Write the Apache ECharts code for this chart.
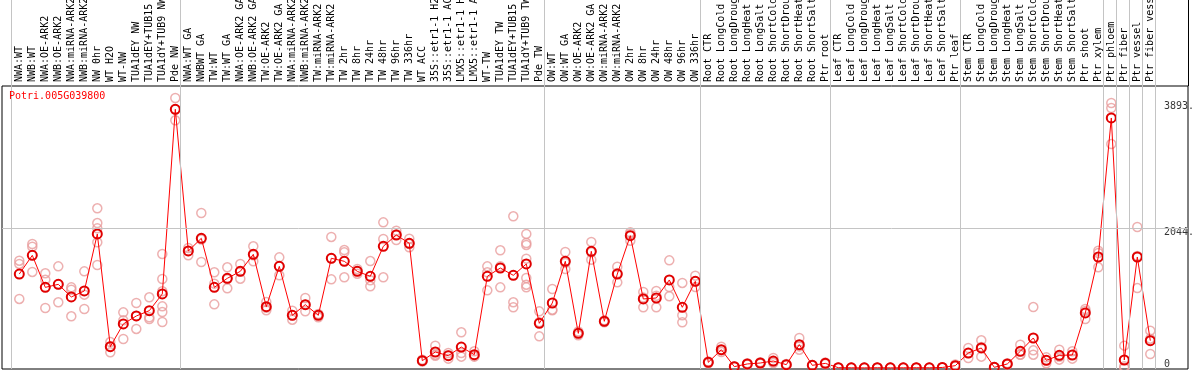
<!DOCTYPE html>
<html><head><meta charset="utf-8">
<script src="https://cdn.jsdelivr.net/npm/echarts@6/dist/echarts.min.js"></script>
<style>html,body{margin:0;padding:0;background:#fff}#c{width:1194px;height:370px}</style>
</head><body><div id="c"></div>
<script>
const geneId = 'Potri.005G039800';
const categories = [
'NWA:WT','NWB:WT','NWA:OE-ARK2','NWB:OE-ARK2','NWA:miRNA-ARK2','NWB:miRNA-ARK2','NW 0hr','WT H2O','WT-NW','TUA1dEY NW','TUA1dEY+TUB15 NW','TUA1dY+TUB9 NW','Pde NW',
'NWA:WT GA','NWBWT GA','TW:WT','TW:WT GA','NWA:OE-ARK2 GA','NWB:OE-ARK2 GA','TW:OE-ARK2','TW:OE-ARK2 GA','NWA:miRNA-ARK2','NWB:miRNA-ARK2','TW:miRNA-ARK2','TW:miRNA-ARK2','TW 2hr','TW 8hr','TW 24hr','TW 48hr','TW 96hr','TW 336hr','WT ACC','35S::etr1-1 H2O','35S::etr1-1 ACC','LMX5::etr1-1 H2O','LMX5::etr1-1 ACC','WT-TW','TUA1dEY TW','TUA1dEY+TUB15 TW','TUA1dY+TUB9 TW','Pde TW',
'OW:WT','OW:WT GA','OW:OE-ARK2','OW:OE-ARK2 GA','OW:miRNA-ARK2','OW:miRNA-ARK2','OW 2hr','OW 8hr','OW 24hr','OW 48hr','OW 96hr','OW 336hr',
'Root CTR','Root LongCold','Root LongDrought','Root LongHeat','Root LongSalt','Root ShortCold','Root ShortDrought','Root ShortHeat','Root ShortSalt','Ptr root',
'Leaf CTR','Leaf LongCold','Leaf LongDrought','Leaf LongHeat','Leaf LongSalt','Leaf ShortCold','Leaf ShortDrought','Leaf ShortHeat','Leaf ShortSalt','Ptr leaf',
'Stem CTR','Stem LongCold','Stem LongDrought','Stem LongHeat','Stem LongSalt','Stem ShortCold','Stem ShortDrought','Stem ShortHeat','Stem ShortSalt','Ptr shoot',
'Ptr xylem','Ptr phloem','Ptr fiber','Ptr vessel','Ptr fiber vessel'
];
const means = [
1375,1648,1180,1224,1039,1127,1961,312,644,761,839,1083,3785,
1712,1897,1180,1312,1414,1663,897,1487,771,927,771,1605,1561,1414,1341,1780,1946,1824,107,234,180,307,195,1341,1463,1356,1522,654,
951,1561,507,1707,683,1375,1936,1010,1024,1288,888,1268,
83,268,20,59,73,102,49,341,39,68,
5,3,2,4,2,3,4,3,8,34,
219,293,10,59,244,439,112,185,190,805,
1624,3658,117,1624,400
];
const replicates = [
[1570,1522,1010],[1814,1775,1405],[1385,1292,878],[1487,961,1224],[1180,1146,756],[1414,1073,863],[2336,2121,2043,1839,1507],[380,229,320],[814,697,424],[951,571,761],[1034,741,717],[1668,1302,1122,902,819,673],[3950,3624,3785],
[1756,1648,1712],[2268,1551,1880],[1400,1234,931],[1473,1166,1300],[1522,1414,1307],[1780,1561,1650],[966,844,880],[1619,1356,1487],[839,707,770],[1024,829,927],[790,741,780],[1917,1297,1605],[1726,1692,1327],[1448,1380,1414],[1565,1283,1195],[2131,1887,1327],[2009,1873,1956],[1892,1765,1815],[120,95,107],[327,195,180],[219,137,185],[522,219,166],[244,166,175],[1487,1136,1400],[1722,1487,1180],[2219,961,888],[1961,1829,1800,1600,1317,1219,1180],[829,463,670],
[1156,853,844],[1697,1448,1538],[507,480,534],[1844,1585,1692],[683,670,696],[1483,1253,1390],[1985,1863,1960],[1112,888,1030],[1127,888,1057],[1575,1185,1049],[1244,771,668],[1351,1185,1268],
[95,70,83],[312,234,258],[25,15,20],[70,50,57],[85,62,72],[146,73,88],[60,40,47],[439,268,316],[45,33,39],[80,58,66],
[6,4,5],[3,2,4],[2,1,3],[5,3,4],[2,2,2],[4,2,3],[5,3,4],[3,2,4],[10,6,8],[50,25,27],
[293,146,219],[405,166,308],[14,6,10],[70,50,57],[341,195,196],[892,258,195],[156,68,112],[268,122,165],[244,137,189],[863,717,835],
[1683,1473,1716],[3877,3804,3277],[327,0,24],[2063,1170,1640],[546,205,429]
];
const groupStarts = [0,13,41,53,63,73,84,85,86,87,88];
const yTickValues = [0, 2044, 3893];
const yTickLabels = ['0', '2044.', '3893.'];
const gridLineValue = 2044;

// ---- layout (pixels) ----
const W = 1194, H = 370;
const frameLeft = 2, frameRight = 1188, plotTop = 86, plotBottom = 369;
const dataLeft = 19.3, dataRight = 1150.3;
const zeroY = 368, pxPerUnit = 0.06835;
const sepOffsetPx = -8;
const yLabelLeftPx = 1164;
const mono = 'DejaVu Sans Mono';

const pitch = (dataRight - dataLeft) / (categories.length - 1);
const yMin = -(plotBottom - zeroY) / pxPerUnit;
const yMax = (zeroY - plotTop) / pxPerUnit;
const xMin = (frameLeft - dataLeft) / pitch;
const xMax = (frameRight - dataLeft) / pitch;
const sepX = groupStarts.map(s => s + sepOffsetPx / pitch);
const yLabelX = (yLabelLeftPx - dataLeft) / pitch;

const repData = [];
replicates.forEach((r, i) => r.forEach(v => repData.push([i, v])));

const chart = echarts.init(document.getElementById('c'), null, {renderer: 'canvas'});
const sepLine = {color: '#c4c4c4', width: 1, type: 'solid'};
const noBounds = {outerBoundsMode: 'none', containLabel: false};
chart.setOption({
  animation: false,
  backgroundColor: '#fff',
  title: {text: geneId, left: 9, top: 91, padding: 0,
    textStyle: {fontFamily: mono, fontSize: 10, fontWeight: 'normal', color: '#ff0000'}},
  grid: [
    Object.assign({left: dataLeft, right: W - dataRight, top: plotTop, bottom: H - plotBottom}, noBounds),
    Object.assign({left: frameLeft, right: W - frameRight, top: plotTop, bottom: H - plotBottom, show: true, borderColor: '#000', borderWidth: 1, backgroundColor: 'transparent'}, noBounds),
    Object.assign({left: frameLeft, right: W - frameRight, top: 0, height: plotTop}, noBounds)
  ],
  xAxis: [
    {type: 'category', gridIndex: 0, data: categories, boundaryGap: false, position: 'top',
     axisLine: {show: false, onZero: false}, axisTick: {show: false}, splitLine: {show: false},
     axisLabel: {interval: 0, rotate: -90, margin: 4, hideOverlap: false,
       fontFamily: mono, fontSize: 10, color: '#000'}},
    {type: 'value', gridIndex: 1, min: xMin, max: xMax, show: false},
    {type: 'value', gridIndex: 2, min: xMin, max: xMax, show: false}
  ],
  yAxis: [
    {type: 'value', gridIndex: 0, min: yMin, max: yMax, show: false},
    {type: 'value', gridIndex: 1, min: yMin, max: yMax, show: false},
    {type: 'value', gridIndex: 2, min: 0, max: 1, show: false}
  ],
  series: [
    {type: 'line', xAxisIndex: 1, yAxisIndex: 1, data: [], silent: true,
     markLine: {silent: true, symbol: 'none', label: {show: false}, lineStyle: sepLine,
       data: sepX.map(x => ({xAxis: x})).concat([{yAxis: gridLineValue}])}},
    {type: 'line', xAxisIndex: 2, yAxisIndex: 2, data: [], silent: true,
     markLine: {silent: true, symbol: 'none', label: {show: false}, lineStyle: sepLine,
       data: sepX.map(x => ({xAxis: x})).concat([{xAxis: xMax, lineStyle: {color: '#000', width: 1, type: 'solid'}}])}},
    {type: 'scatter', xAxisIndex: 0, yAxisIndex: 0, data: repData, symbol: 'circle', symbolSize: 9,
     itemStyle: {color: 'rgba(0,0,0,0)', borderColor: '#e89c9c', borderWidth: 1.5}, z: 3},
    {type: 'line', xAxisIndex: 0, yAxisIndex: 0, data: means, symbol: 'circle', symbolSize: 9, showAllSymbol: true,
     lineStyle: {color: '#ff0000', width: 1},
     itemStyle: {color: 'rgba(0,0,0,0)', borderColor: '#e00000', borderWidth: 2}, z: 4},
    {type: 'scatter', xAxisIndex: 1, yAxisIndex: 1, symbolSize: 0, silent: true,
     data: yTickValues.map((v, k) => ({value: [yLabelX, v],
       label: {show: true, position: [0, 0], align: 'left', verticalAlign: v === 0 ? 'bottom' : 'top',
         offset: [0, v === 0 ? 1 : -1], formatter: yTickLabels[k],
         fontFamily: mono, fontSize: 10, color: '#000'}}))}
  ]
});
</script></body></html>
